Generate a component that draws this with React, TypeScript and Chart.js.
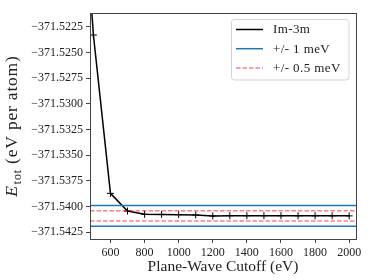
import React, { useEffect, useRef } from 'react';
import { Chart, registerables } from 'chart.js';

Chart.register(...registerables);

const cutoffs = [400, 500, 600, 700, 800, 900, 1000, 1100, 1200, 1300, 1400, 1500, 1600, 1700, 1800, 1900, 2000];
const energies = [
  -371.5, -371.52331, -371.53871, -371.54043, -371.54075, -371.54076, -371.54078, -371.54081,
  -371.54091, -371.54088, -371.54088, -371.54088, -371.54088, -371.54089, -371.54089, -371.54089, -371.5409,
];
const converged = -371.5409;
const band1meV = 0.001;
const bandHalfmeV = 0.0005;
const xTicks = [600, 800, 1000, 1200, 1400, 1600, 1800, 2000];
const yTicks = [-371.5225, -371.525, -371.5275, -371.53, -371.5325, -371.535, -371.5375, -371.54, -371.5425];
const xLimits = [480, 2040];
const yLimits = [-371.54315, -371.52117];
const seriesLabel = 'Im-3m';
const band1Label = '+/- 1 meV';
const bandHalfLabel = '+/- 0.5 meV';

const BLUE = '#1f77b4';
const RED = 'rgba(255,0,0,0.5)';
const SPINE = '#444444';
const TEXT = '#222222';
const SERIF = '"Liberation Serif", "Times New Roman", serif';
const DASH = [4.5, 2];

const hline = (y: number, label: string, color: string, dash: number[], order: number) => ({
  label,
  data: [
    { x: xLimits[0], y },
    { x: xLimits[1], y },
  ],
  borderColor: color,
  backgroundColor: color,
  borderWidth: 1.5,
  borderDash: dash,
  pointRadius: 0,
  order,
});

const decor = {
  id: 'decor',
  afterDraw(chart: any) {
    const { ctx, chartArea: a } = chart;
    ctx.save();
    // spines
    ctx.strokeStyle = SPINE;
    ctx.lineWidth = 1;
    const l = Math.floor(a.left) + 0.5;
    const t = Math.floor(a.top) + 0.5;
    const r = Math.floor(a.right) + 0.5;
    const b = Math.floor(a.bottom) + 0.5;
    ctx.strokeRect(l, t, r - l, b - t);

    // y-axis title
    ctx.fillStyle = TEXT;
    ctx.textBaseline = 'alphabetic';
    ctx.textAlign = 'left';
    ctx.translate(17, (a.top + a.bottom) / 2);
    ctx.rotate(-Math.PI / 2);
    (ctx as any).letterSpacing = '0.8px';
    const bigFont = `italic 17.5px ${SERIF}`;
    const subFont = `12px ${SERIF}`;
    const restFont = `17.5px ${SERIF}`;
    ctx.font = bigFont;
    const wE = ctx.measureText('E').width;
    ctx.font = subFont;
    const wSub = ctx.measureText('tot').width;
    ctx.font = restFont;
    const rest = ' (eV per atom)';
    const wRest = ctx.measureText(rest).width;
    let x = -(wE + wSub + wRest + 1) / 2;
    ctx.font = bigFont;
    ctx.fillText('E', x, 0);
    x += wE + 1;
    ctx.font = subFont;
    ctx.fillText('tot', x, 4);
    x += wSub;
    ctx.font = restFont;
    ctx.fillText(rest, x, 0);
    ctx.restore();

    // legend
    ctx.save();
    const bx = 231.5, by = 19.5, bw = 117.5, bh = 60.5;
    ctx.beginPath();
    (ctx as any).roundRect(bx, by, bw, bh, 3);
    ctx.fillStyle = 'rgba(255,255,255,0.8)';
    ctx.fill();
    ctx.strokeStyle = '#d4d4d4';
    ctx.lineWidth = 1;
    ctx.stroke();
    const entries = chart.data.datasets.filter((d: any) => d.label);
    const rows = [29.5, 48.7, 68];
    entries.forEach((d: any, i: number) => {
      const yy = rows[i];
      ctx.beginPath();
      ctx.setLineDash(d.borderDash || []);
      ctx.strokeStyle = d.borderColor;
      ctx.lineWidth = 1.5;
      ctx.moveTo(236, yy);
      ctx.lineTo(263, yy);
      ctx.stroke();
      ctx.setLineDash([]);
      ctx.fillStyle = TEXT;
      ctx.font = `13px ${SERIF}`;
      (ctx as any).letterSpacing = '0.4px';
      ctx.textBaseline = 'middle';
      ctx.textAlign = 'left';
      ctx.fillText(d.label, 273, yy + 0.5);
    });
    ctx.restore();
  },
};

export default function App() {
  const ref = useRef<HTMLCanvasElement | null>(null);
  useEffect(() => {
    if (!ref.current) return;
    const chart = new Chart(ref.current, {
      type: 'line',
      data: {
        datasets: [
          {
            label: seriesLabel,
            data: cutoffs.map((c, i) => ({ x: c, y: energies[i] })),
            borderColor: '#000000',
            backgroundColor: '#000000',
            borderWidth: 1.5,
            pointStyle: 'cross',
            pointRadius: 3.5,
            pointBorderWidth: 1,
            pointBorderColor: '#000000',
            order: 3,
          },
          hline(converged + band1meV, band1Label, BLUE, [], 2),
          hline(converged - band1meV, '', BLUE, [], 2),
          hline(converged + bandHalfmeV, bandHalfLabel, RED, DASH, 1),
          hline(converged - bandHalfmeV, '', RED, DASH, 1),
        ] as any,
      },
      options: {
        animation: false,
        responsive: false,
        events: [],
        layout: { padding: { top: 13, right: 18, left: 0, bottom: 0 } },
        plugins: { legend: { display: false }, tooltip: { enabled: false } },
        scales: {
          x: {
            type: 'linear',
            min: xLimits[0],
            max: xLimits[1],
            afterBuildTicks: (s: any) => {
              s.ticks = xTicks.map((v) => ({ value: v }));
            },
            afterFit: (s: any) => {
              s.height = 41;
            },
            grid: { display: true, drawOnChartArea: false, drawTicks: true, tickLength: 4, color: SPINE, lineWidth: 1 },
            border: { display: false },
            ticks: {
              font: { family: SERIF, size: 12 },
              color: TEXT,
              padding: 3,
              maxRotation: 0,
              autoSkip: false,
              callback: (v: any) => String(v),
            },
            title: {
              display: true,
              text: 'Plane-Wave Cutoff (eV)',
              font: { family: SERIF, size: 15.5, lineHeight: 1 },
              color: TEXT,
              padding: { top: 0, bottom: 5.5 },
            },
          },
          y: {
            type: 'linear',
            min: yLimits[0],
            max: yLimits[1],
            afterBuildTicks: (s: any) => {
              s.ticks = yTicks.map((v) => ({ value: v }));
            },
            afterFit: (s: any) => {
              s.width = 90;
            },
            grid: { display: true, drawOnChartArea: false, drawTicks: true, tickLength: 4, color: SPINE, lineWidth: 1 },
            border: { display: false },
            ticks: {
              font: { family: SERIF, size: 12 },
              color: TEXT,
              padding: 3,
              autoSkip: false,
              callback: (v: any) => Number(v).toFixed(4).replace('-', '\u2212'),
            },
          },
        },
      } as any,
      plugins: [decor],
    });
    return () => chart.destroy();
  }, []);
  return (
    <div style={{ position: 'fixed', left: 0, top: 0, width: 374, height: 280, background: '#ffffff' }}>
      <canvas ref={ref} width={374} height={280} style={{ display: 'block', width: 374, height: 280 }} />
    </div>
  );
}
